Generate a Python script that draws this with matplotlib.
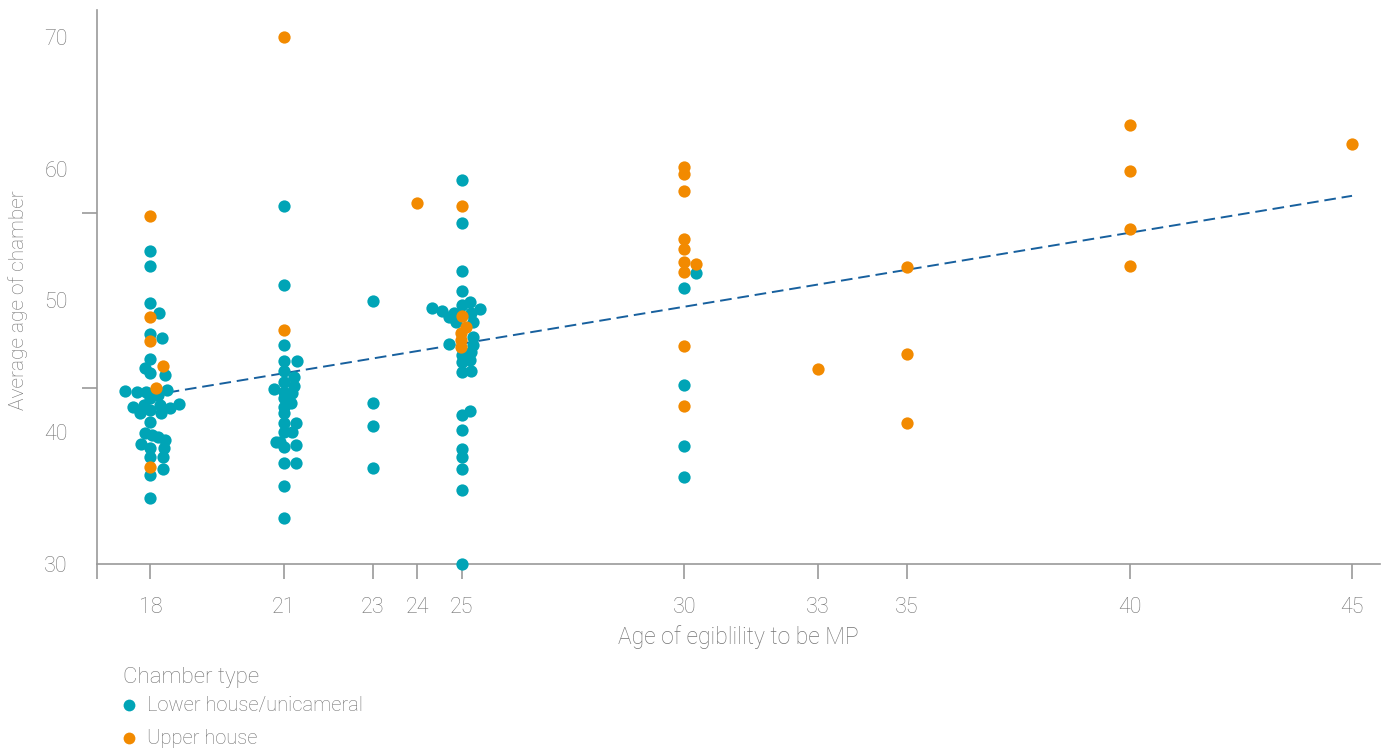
import numpy as np
import matplotlib.pyplot as plt
from matplotlib.lines import Line2D

plt.rcParams['font.family'] = ['Roboto', 'DejaVu Sans']

# lower house / unicameral chambers (x includes the swarm offset)
lower_x = [18, 18, 18, 18.19, 18, 18.25, 18, 17.88, 18, 18.33, 17.42, 17.69, 17.9, 18.37,
           18.18, 18, 17.6, 17.85, 18.22, 18.65, 17.77, 18, 18.24, 18.44, 18, 17.87, 18.03,
           18.16, 18.33, 17.79, 18, 18.3, 18, 18.29, 18.29, 18, 18,
           21, 21, 21, 21, 21.29, 21, 21.22, 21, 20.78, 21.22, 21, 21.18, 21, 21.16, 21, 21,
           21, 21.28, 21, 21.18, 20.83, 20.92, 21, 21.26, 21, 21.28, 21, 21,
           23, 23, 23, 23,
           25, 25, 25, 25, 24.33, 24.56, 25, 25.17, 25.4, 24.7, 24.83, 24.87, 25.25, 25.2,
           25.25, 25.25, 24.7, 25.2, 25, 25.17, 25, 25, 25.2, 25.19, 25, 25, 25, 25, 25, 25, 25,
           30.27, 30, 30, 30, 30]
lower_y = [53.76, 52.59, 49.83, 49.07, 47.43, 47.15, 45.54, 44.9, 44.52, 44.35, 43.13, 43.08,
           43.08, 43.2, 42.83, 42.58, 41.89, 42.07, 42.07, 42.14, 41.44, 41.69, 41.44, 41.82,
           40.8, 39.97, 39.79, 39.66, 39.41, 39.08, 38.83, 38.83, 38.1, 38.1, 37.21, 36.73, 34.99,
           57.2, 51.18, 46.62, 45.43, 45.43, 44.67, 44.17, 43.84, 43.28, 43.53, 43.08, 42.96,
           42.58, 42.2, 41.94, 41.44, 40.73, 40.73, 40.04, 40.0, 39.29, 39.29, 38.91, 39.03,
           37.69, 37.69, 35.92, 33.47,
           49.99, 42.25, 40.5, 37.26,
           59.15, 55.9, 52.26, 50.74, 49.4, 49.23, 49.66, 49.91, 49.33, 48.72, 49.07, 48.39,
           48.39, 49.07, 47.25, 46.62, 46.7, 46.12, 45.86, 45.48, 45.35, 44.59, 44.67, 41.64,
           41.31, 40.17, 38.7, 38.14, 37.21, 35.62, 30.0,
           52.11, 50.93, 43.59, 38.98, 36.63]

# upper houses
upper_x = [18, 18, 18, 18.28, 18.12, 18,
           21, 21,
           24,
           25, 25, 25.08, 24.97, 24.97, 24.97,
           30, 30, 30, 30, 30, 30, 30.27, 30, 30, 30,
           33, 35, 35, 35, 40, 40, 40, 40, 45]
upper_y = [56.44, 48.77, 46.93, 45.03, 43.38, 37.39,
           70.03, 47.76,
           57.43,
           57.17, 48.82, 47.96, 47.51, 47.0, 46.49,
           60.16, 59.58, 58.34, 54.67, 53.89, 52.9, 52.75, 52.19, 46.57, 41.99,
           44.8, 52.52, 45.91, 40.68, 63.32, 59.83, 55.43, 52.62, 61.86]

# trend line
trend_x = [18, 45]
trend_slope = 0.561
trend_intercept = 32.7

x_ticks = [18, 21, 23, 24, 25, 30, 33, 35, 40, 45]
y_labels = [30, 40, 50, 60, 70]

teal = '#00A4B6'
orange = '#F28A00'
grey = '#9A9A9A'
text_grey = '#737373'

fig = plt.figure(figsize=(13.94, 7.51), dpi=100)
ax = fig.add_axes([0.0696, 0.249, 0.9204, 0.7377])

tx = np.array(trend_x)
ax.plot(tx, trend_intercept + trend_slope * tx, color='#17609E', lw=1.4,
        dashes=(6, 3), zorder=2)
ax.scatter(lower_x, lower_y, s=78, color=teal, linewidths=0, zorder=3, clip_on=False)
ax.scatter(upper_x, upper_y, s=78, color=orange, linewidths=0, zorder=3, clip_on=False)

ax.set_xlim(16.8, 45.63)
ax.set_ylim(30, 72.05)

for s in ['top', 'right']:
    ax.spines[s].set_visible(False)
for s in ['left', 'bottom']:
    ax.spines[s].set_color(grey)
    ax.spines[s].set_linewidth(1.2)

ax.set_xticks(x_ticks)
ax.set_xticks([16.8], minor=True)
ax.tick_params(axis='x', which='both', length=11, width=1.2, color=grey,
               labelcolor=text_grey, labelsize=15.5, pad=12.5)
ax.set_yticks(y_labels)
ax.set_yticks(np.linspace(30, 70, 4), minor=True)
ax.tick_params(axis='y', which='major', length=0, labelcolor=text_grey, labelsize=15.5, pad=21)
ax.tick_params(axis='y', which='minor', length=11, width=1.2, color=grey)
for lab in ax.get_xticklabels() + ax.get_yticklabels():
    lab.set_fontweight('light')

ax.set_xlabel('Age of egiblility to be MP', fontsize=16.5, color=text_grey, fontweight='light')
ax.xaxis.set_label_coords(0.5, -0.1318)
ax.xaxis.label.set_va('center')
ax.set_ylabel('Average age of chamber', fontsize=15, color=text_grey, fontweight='light')
ax.yaxis.set_label_coords(-0.0616, 0.4765)
ax.yaxis.label.set_va('center')

# legend
fig.text(123 / 1394, 1 - 678 / 751, 'Chamber type', fontsize=16, color=text_grey,
         fontweight='light', va='center', ha='left')
for i, (lab, col) in enumerate([('Lower house/unicameral', teal), ('Upper house', orange)]):
    yy = 1 - (705 + 33 * i) / 751
    fig.add_artist(Line2D([129 / 1394], [yy], marker='o', markersize=8.5, color=col,
                          markeredgewidth=0, transform=fig.transFigure))
    fig.text(147 / 1394, yy, lab, fontsize=14.5, color=text_grey, fontweight='light',
             va='center', ha='left')

fig.savefig('out.png', dpi=100)
